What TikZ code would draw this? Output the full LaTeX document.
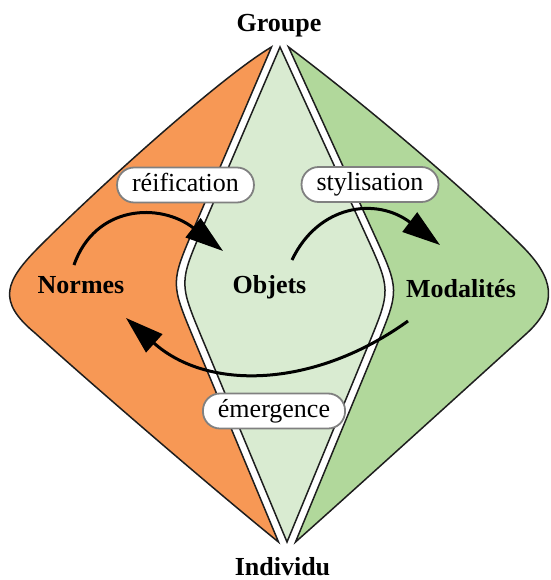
\documentclass[tikz,border=0pt]{standalone}
\usepackage{fontspec}
\setmainfont{Liberation Serif}
\usetikzlibrary{arrows.meta}
\definecolor{orangefill}{RGB}{247,152,85}
\definecolor{lensfill}{RGB}{217,235,209}
\definecolor{greenfill}{RGB}{177,216,155}
\definecolor{boxgray}{RGB}{128,128,128}
\definecolor{edgeblack}{RGB}{30,30,30}
\begin{document}
\begin{tikzpicture}[x=1pt,y=-1pt,
  region/.style={draw=edgeblack, line width=1.5pt, line join=miter},
  bigtext/.style={font=\fontsize{26}{30}\selectfont\bfseries, anchor=base, inner sep=0pt},
  tag/.style={draw=boxgray, line width=1.8pt, fill=white, rounded corners=17pt,
    font=\fontsize{26}{30}\selectfont, text height=18pt, text depth=6pt,
    minimum height=35pt, inner xsep=15pt, inner ysep=0pt},
  flow/.style={line width=3pt, -{Triangle[length=38pt,width=24pt]}}]
\useasboundingbox (0,0) rectangle (550,580);

% left region (Normes)
\filldraw[region, fill=orangefill]
  (271.5,47) .. controls (219.9,77.6) and (96.6,189.4) .. (40,246)
  .. controls (4.6,281.4) and (-3.5,301) .. (35,333)
  .. controls (94.2,386.6) and (216.3,491.6) .. (278.5,542)
  -- (193.6,338.4) .. controls (170.5,283) .. (194.1,227.8) -- cycle;

% right region (Modalites)
\filldraw[region, fill=greenfill]
  (288.5,47) .. controls (360.5,101) and (465.4,189.4) .. (522,246)
  .. controls (553.8,277.8) and (559.3,303.9) .. (526,334)
  .. controls (466.8,387.6) and (355.3,488.9) .. (295.5,542)
  -- (376.6,345.5) .. controls (399.5,290) .. (374.6,235.4) -- cycle;

% middle lens (Objets)
\filldraw[region, fill=lensfill]
  (280,47) -- (202.6,227.8) .. controls (179,283) .. (202.1,338.4) -- (287,542)
  -- (368.1,345.5) .. controls (391,290) .. (366.1,235.4) -- cycle;

% texts
\node[bigtext] (groupe) at (279,31.5) {Groupe};
\node[bigtext] (individu) at (282.5,575) {Individu};
\node[bigtext] (normes) at (81,293) {Normes};
\node[bigtext] (objets) at (269.5,293) {Objets};
\node[bigtext] (modalites) at (461,297) {Modalités};

% arrows
\coordinate (a1s) at (74,265);
\coordinate (a1e) at (223,251);
\coordinate (a2s) at (292,260);
\coordinate (a2e) at (440,245);
\coordinate (a3s) at (408,321);
\coordinate (a3e) at (126,318);
\draw[flow] (a1s) .. controls (95,205) and (160,202) .. (a1e);
\draw[flow] (a2s) .. controls (318,205) and (376,196.5) .. (a2e);
\draw[flow] (a3s) .. controls (315,388) and (208,391.5) .. (a3e);

% labels
\node[tag] (reif) at (185.5,185) {réification};
\node[tag] (styl) at (370,184.5) {stylisation};
\node[tag] (emer) at (274,411) {émergence};
\end{tikzpicture}
\end{document}
